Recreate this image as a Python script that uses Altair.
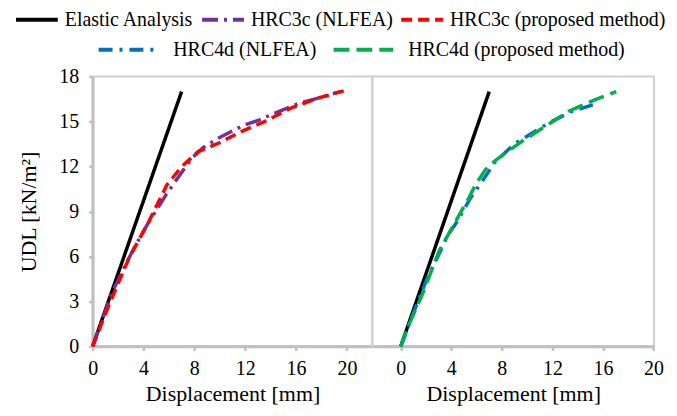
import altair as alt
import pandas as pd

# ---------------- data ----------------
x_ticks = [0, 4, 8, 12, 16, 20]
y_ticks = [0, 3, 6, 9, 12, 15, 18]

elastic_x = [0, 7.0]
elastic_y = [0, 17.0]

hrc3c_nlfea_x = [0, 1.56, 2.73, 3.25, 4.29, 5.77, 6.5, 7.79, 8.71, 9.88, 11.82, 13.13, 14.29, 16.24, 17.67, 19.49]
hrc3c_nlfea_y = [0, 3.67, 5.67, 6.55, 8.11, 10.11, 11.0, 12.55, 13.27, 13.89, 14.73, 15.11, 15.55, 16.22, 16.55, 17.0]

hrc3c_prop_x = [0, 1.3, 2.86, 4.42, 5.85, 7.01, 8.31, 9.88, 11.69, 13.52, 15.59, 17.67, 19.75]
hrc3c_prop_y = [0, 2.78, 5.89, 8.33, 10.78, 12.0, 13.0, 13.55, 14.33, 15.0, 15.89, 16.55, 17.05]

hrc4d_nlfea_x = [0, 0.79, 1.57, 2.09, 2.76, 3.67, 4.46, 5.51, 6.43, 7.48, 9.06, 11.68, 13.51, 15.61]
hrc4d_nlfea_y = [0, 1.78, 3.45, 4.55, 5.67, 7.33, 8.33, 9.89, 11.0, 12.33, 13.55, 14.89, 15.67, 16.22]

hrc4d_prop_x = [0, 0.65, 1.7, 3.02, 4.33, 5.38, 5.91, 6.69, 7.48, 9.57, 11.42, 13.25, 15.35, 17.06]
hrc4d_prop_y = [0, 1.45, 3.45, 6.33, 8.33, 9.89, 10.78, 11.78, 12.4, 13.67, 14.67, 15.67, 16.45, 17.0]

names_left = ["Elastic Analysis", "HRC3c (NLFEA)", "HRC3c (proposed method)"]
names_right = ["HRC4d (NLFEA)", "HRC4d (proposed method)"]
colors_left = ["#000000", "#7030A0", "#FF0000"]
colors_right = ["#0070C0", "#00B050"]
dashes_left = [[1, 0], [16, 6, 3, 6], [11, 6]]
dashes_right = [[14, 7, 3, 7], [16, 7]]


def frame(name, xs, ys):
    return pd.DataFrame({"x": xs, "y": ys, "series": name, "idx": range(len(xs))})


left_df = pd.concat([
    frame(names_left[0], elastic_x, elastic_y),
    frame(names_left[1], hrc3c_nlfea_x, hrc3c_nlfea_y),
    frame(names_left[2], hrc3c_prop_x, hrc3c_prop_y),
])
right_el_df = frame("Elastic", elastic_x, elastic_y)
right_df = pd.concat([
    frame(names_right[0], hrc4d_nlfea_x, hrc4d_nlfea_y),
    frame(names_right[1], hrc4d_prop_x, hrc4d_prop_y),
])

FONT = "Liberation Serif"
GRAY = "#BFBFBF"

yscale = alt.Scale(domain=[0, 18], nice=False, zero=False)


def legend(x, y, cols, symbol, label_offset, col_pad):
    return alt.Legend(
        orient="none", legendX=x, legendY=y, direction="horizontal", columns=cols,
        title=None, symbolType=symbol, symbolSize=100, symbolStrokeWidth=4,
        labelFont=FONT, labelFontSize=20, labelColor="black", labelOffset=label_offset,
        columnPadding=col_pad, labelLimit=400,
    )


xaxis = dict(values=x_ticks, title="Displacement [mm]", labelFlush=False)

leg_l = legend(-82, -67, 3, "M-1,0L7.4,0", 34, 0)
left = alt.Chart(left_df).mark_line(strokeWidth=3.5).encode(
    x=alt.X("x:Q", scale=alt.Scale(domain=[0, 22.0], nice=False, zero=False), axis=alt.Axis(**xaxis)),
    y=alt.Y("y:Q", scale=yscale, axis=alt.Axis(values=y_ticks, title="UDL [kN/m²]")),
    color=alt.Color("series:N", scale=alt.Scale(domain=names_left, range=colors_left), legend=leg_l),
    strokeDash=alt.StrokeDash("series:N", scale=alt.Scale(domain=names_left, range=dashes_left), legend=leg_l),
    order="idx:Q",
).properties(width=281, height=271)

rx = alt.Scale(domain=[-2.25, 20.05], nice=False, zero=False)
right_el = alt.Chart(right_el_df).mark_line(strokeWidth=3.5, color="#000000").encode(
    x=alt.X("x:Q", scale=rx, axis=alt.Axis(**xaxis)),
    y=alt.Y("y:Q", scale=yscale, axis=None),
    order="idx:Q",
)
leg_r = legend(-280, -37, 2, "M-1,0L11,0", 60, 9)
right_lines = alt.Chart(right_df).mark_line(strokeWidth=3.5).encode(
    x=alt.X("x:Q", scale=rx, axis=alt.Axis(**xaxis)),
    y=alt.Y("y:Q", scale=yscale, axis=None),
    color=alt.Color("series:N", scale=alt.Scale(domain=names_right, range=colors_right), legend=leg_r),
    strokeDash=alt.StrokeDash("series:N", scale=alt.Scale(domain=names_right, range=dashes_right), legend=leg_r),
    order="idx:Q",
)
right = alt.layer(right_el, right_lines).properties(width=283, height=271)

chart = alt.hconcat(left, right, spacing=0, bounds="flush").resolve_scale(
    x="independent", y="independent", color="independent", strokeDash="independent"
).properties(
    padding={"left": 2, "top": 0, "right": 2, "bottom": 0},
).configure_view(
    stroke="#D0D0D0", strokeWidth=2
).configure_legend(
    labelFont=FONT, labelFontSize=20, labelColor="black", labelLimit=400,
).configure_axis(
    grid=False, domainColor=GRAY, domainWidth=3, tickColor=GRAY, tickWidth=2.5, tickSize=4,
    labelFont=FONT, labelFontSize=20, labelColor="black",
    titleFont=FONT, titleFontSize=22, titleFontWeight="normal", titleColor="black",
).configure_axisX(titlePadding=5, labelPadding=8).configure_axisY(titlePadding=18, labelPadding=10)

chart.save("out.html", embed_options={"renderer": "svg", "actions": False})
